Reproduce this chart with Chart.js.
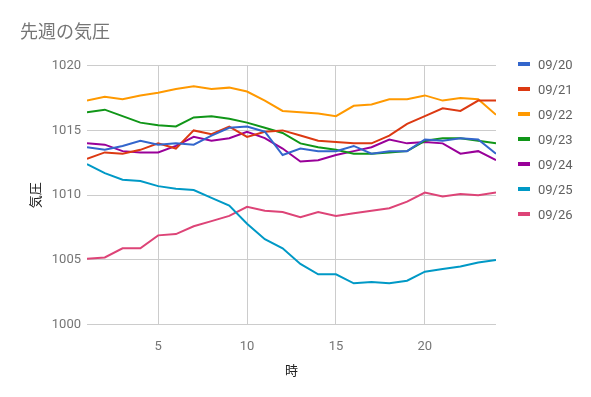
<!DOCTYPE html>
<html>
<head>
<meta charset="utf-8">
<script src="https://cdn.jsdelivr.net/npm/chart.js@4/dist/chart.umd.min.js"></script>
<style>
  html, body { margin: 0; padding: 0; background: #fff; }
  #wrap { position: relative; width: 591px; height: 397px; }
  #legend { position: absolute; left: 518px; top: 51.5px; margin: 0; padding: 0; list-style: none;
            font-family: Roboto, 'Noto Sans CJK JP', sans-serif; font-size: 13px; color: #616161; }
  #legend li { height: 25px; display: flex; align-items: center; }
  #legend .sw { width: 12px; height: 4px; margin-right: 8px; }
</style>
</head>
<body>
<div id="wrap">
  <canvas id="chart" width="591" height="397"></canvas>
  <ul id="legend"></ul>
</div>
<script>
/* ---------- data ---------- */
const hours = [1,2,3,4,5,6,7,8,9,10,11,12,13,14,15,16,17,18,19,20,21,22,23,24];
const xTicks = [5, 10, 15, 20];
const yTicks = [1000, 1005, 1010, 1015, 1020];

const days = ['09/20', '09/21', '09/22', '09/23', '09/24', '09/25', '09/26'];

const p0920 = [1013.7,1013.5,1013.8,1014.2,1013.9,1014.0,1013.9,1014.6,1015.2,1015.3,1014.9,1013.1,1013.6,1013.4,1013.4,1013.8,1013.2,1013.4,1013.4,1014.3,1014.2,1014.4,1014.3,1013.2];
const p0921 = [1012.8,1013.3,1013.2,1013.5,1014.0,1013.6,1015.0,1014.7,1015.3,1014.5,1014.9,1015.0,1014.6,1014.2,1014.1,1014.0,1014.0,1014.6,1015.5,1016.1,1016.7,1016.5,1017.3,1017.3];
const p0922 = [1017.3,1017.6,1017.4,1017.7,1017.9,1018.2,1018.4,1018.2,1018.3,1018.0,1017.3,1016.5,1016.4,1016.3,1016.1,1016.9,1017.0,1017.4,1017.4,1017.7,1017.3,1017.5,1017.4,1016.2];
const p0923 = [1016.4,1016.6,1016.1,1015.6,1015.4,1015.3,1016.0,1016.1,1015.9,1015.6,1015.2,1014.8,1014.0,1013.7,1013.5,1013.2,1013.2,1013.3,1013.4,1014.2,1014.4,1014.4,1014.2,1014.0];
const p0924 = [1014.0,1013.9,1013.4,1013.3,1013.3,1013.8,1014.5,1014.2,1014.4,1014.9,1014.4,1013.6,1012.6,1012.7,1013.1,1013.4,1013.7,1014.3,1014.0,1014.1,1014.0,1013.2,1013.4,1012.7];
const p0925 = [1012.4,1011.7,1011.2,1011.1,1010.7,1010.5,1010.4,1009.8,1009.2,1007.8,1006.6,1005.9,1004.7,1003.9,1003.9,1003.2,1003.3,1003.2,1003.4,1004.1,1004.3,1004.5,1004.8,1005.0];
const p0926 = [1005.1,1005.2,1005.9,1005.9,1006.9,1007.0,1007.6,1008.0,1008.4,1009.1,1008.8,1008.7,1008.3,1008.7,1008.4,1008.6,1008.8,1009.0,1009.5,1010.2,1009.9,1010.1,1010.0,1010.2];

const series = [p0920, p0921, p0922, p0923, p0924, p0925, p0926];
const colors = ['#3366cc', '#dc3912', '#ff9900', '#109618', '#990099', '#0099c6', '#dd4477'];

/* ---------- chart ---------- */
const FONT = "Roboto, 'Noto Sans CJK JP', sans-serif";

const datasets = days.map((d, i) => ({
  label: d,
  data: hours.map((h, j) => ({ x: h, y: series[i][j] })),
  borderColor: colors[i],
  backgroundColor: colors[i],
  borderWidth: 2,
  pointRadius: 0,
  pointHoverRadius: 0,
  tension: 0
}));

new Chart(document.getElementById('chart').getContext('2d'), {
  type: 'line',
  data: { datasets },
  options: {
    responsive: false,
    animation: false,
    layout: { padding: { left: 20, right: 95, top: 0, bottom: 17 } },
    plugins: {
      title: {
        display: true,
        text: '先週の気圧',
        align: 'start',
        color: '#757575',
        font: { family: FONT, size: 18, weight: 'normal' },
        padding: { top: 23, bottom: 21 }
      },
      legend: { display: false },
      tooltip: { enabled: false }
    },
    scales: {
      x: {
        type: 'linear',
        min: 1,
        max: 24,
        afterBuildTicks: axis => { axis.ticks = xTicks.map(v => ({ value: v })); },
        grid: { color: '#cccccc', drawTicks: false },
        border: { display: false },
        ticks: { color: '#757575', font: { family: FONT, size: 13 }, padding: 14 },
        title: {
          display: true,
          text: '時',
          color: '#222222',
          font: { family: FONT, size: 13 },
          padding: { top: -4, bottom: 0 }
        }
      },
      y: {
        min: 1000,
        max: 1020,
        afterBuildTicks: axis => { axis.ticks = yTicks.map(v => ({ value: v })); },
        afterFit: scale => { scale.width = 67; },
        grid: { color: '#cccccc', drawTicks: false },
        border: { display: false },
        ticks: {
          color: '#757575',
          font: { family: FONT, size: 13 },
          padding: 6,
          callback: v => String(v)
        },
        title: {
          display: true,
          text: '気圧',
          color: '#222222',
          font: { family: FONT, size: 13 },
          padding: { top: 9, bottom: 4 }
        }
      }
    }
  }
});

/* ---------- legend ---------- */
const legendEl = document.getElementById('legend');
days.forEach((d, i) => {
  const li = document.createElement('li');
  li.innerHTML = `<span class="sw" style="background:${colors[i]}"></span><span>${d}</span>`;
  legendEl.appendChild(li);
});
</script>
</body>
</html>
